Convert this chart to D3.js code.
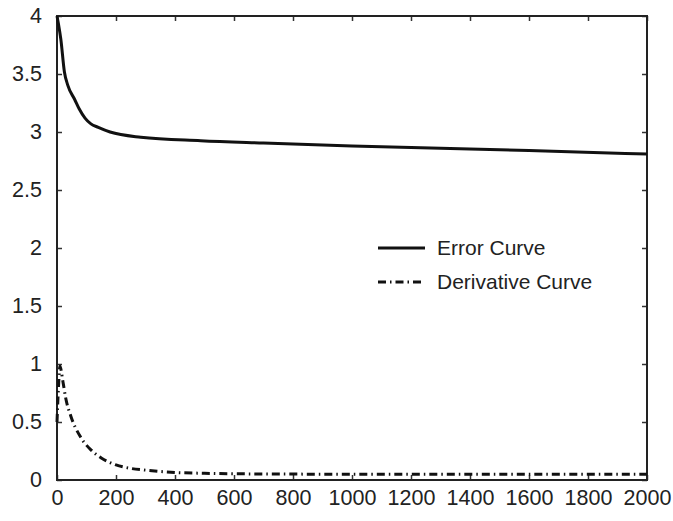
<!DOCTYPE html>
<html><head><meta charset="utf-8">
<script src="https://cdn.jsdelivr.net/npm/d3@7"></script>
<style>body{margin:0;background:#fff}</style>
</head><body>
<svg id="chart" width="673" height="521"></svg>
<script>
const errorX = [0, 5, 13, 25, 37, 60, 75, 95, 115, 140, 180, 284, 487, 700, 1000, 1300, 1600, 2000];
const errorY = [4.0, 3.93, 3.8, 3.52, 3.40, 3.28, 3.2, 3.12, 3.07, 3.04, 3.0, 2.955, 2.925, 2.905, 2.88, 2.86, 2.84, 2.81];
const derivX = [0, 5, 10, 20, 30, 47, 80, 115, 150, 200, 250, 300, 400, 500, 700, 1000, 1500, 2000];
const derivY = [0.5, 0.8, 0.98, 0.85, 0.7, 0.55, 0.37, 0.26, 0.19, 0.13, 0.1, 0.085, 0.065, 0.058, 0.052, 0.05, 0.05, 0.05];
const xTicks = [0, 200, 400, 600, 800, 1000, 1200, 1400, 1600, 1800, 2000];
const yTicks = [0, 0.5, 1, 1.5, 2, 2.5, 3, 3.5, 4];
const seriesNames = ["Error Curve", "Derivative Curve"];

const svg = d3.select("#chart");
const L = 57, R = 647, T = 16, B = 480;
const x = d3.scaleLinear().domain([0, 2000]).range([L, R]);
const y = d3.scaleLinear().domain([0, 4]).range([B, T]);
const font = "'Liberation Sans', Arial, sans-serif";
const fs = 21.5;

const gx = svg.append("g").attr("transform", `translate(0,${B})`)
  .call(d3.axisBottom(x).tickValues(xTicks).tickSizeInner(-5).tickSizeOuter(0).tickPadding(10).tickFormat(d3.format("d")));
const gy = svg.append("g").attr("transform", `translate(${L},0)`)
  .call(d3.axisLeft(y).tickValues(yTicks).tickSizeInner(-5).tickSizeOuter(0).tickPadding(15).tickFormat(d => String(d)));
const gt = svg.append("g").attr("transform", `translate(0,${T})`)
  .call(d3.axisTop(x).tickValues(xTicks).tickSizeInner(-5).tickSizeOuter(0).tickFormat(""));
const gr = svg.append("g").attr("transform", `translate(${R},0)`)
  .call(d3.axisRight(y).tickValues(yTicks).tickSizeInner(-5).tickSizeOuter(0).tickFormat(""));
[gx, gy, gt, gr].forEach(g => {
  g.select(".domain").remove();
  g.selectAll(".tick line").attr("stroke", "#333").attr("stroke-width", 1.5);
  g.selectAll("text").attr("font-family", font).attr("font-size", fs).attr("fill", "#222");
});
gx.selectAll("text").attr("dy", "0.71em");

svg.append("rect").attr("x", L).attr("y", T).attr("width", R - L).attr("height", B - T)
  .attr("fill", "none").attr("stroke", "#222").attr("stroke-width", 2);

const line = d3.line().x(d => x(d[0])).y(d => y(d[1])).curve(d3.curveMonotoneX);
const errData = errorX.map((v, i) => [v, errorY[i]]);
const derData = derivX.map((v, i) => [v, derivY[i]]);

svg.append("path").datum(errData).attr("d", line)
  .attr("fill", "none").attr("stroke", "#111").attr("stroke-width", 3);
svg.append("path").datum(derData).attr("d", line)
  .attr("fill", "none").attr("stroke", "#111").attr("stroke-width", 3)
  .attr("stroke-dasharray", "8,4,1.5,4");

// legend
const lg = svg.append("g");
const lx1 = 378, lx2 = 425, ly = [248, 282];
lg.append("line").attr("x1", lx1).attr("x2", lx2).attr("y1", ly[0]).attr("y2", ly[0])
  .attr("stroke", "#111").attr("stroke-width", 3);
lg.append("line").attr("x1", lx1).attr("x2", lx2).attr("y1", ly[1]).attr("y2", ly[1])
  .attr("stroke", "#111").attr("stroke-width", 3).attr("stroke-dasharray", "8,4,1.5,4");
seriesNames.forEach((n, i) => {
  lg.append("text").attr("x", 437).attr("y", ly[i]).attr("dy", "0.35em")
    .attr("font-family", font).attr("font-size", 21).attr("fill", "#222").text(n);
});
</script>
</body></html>
